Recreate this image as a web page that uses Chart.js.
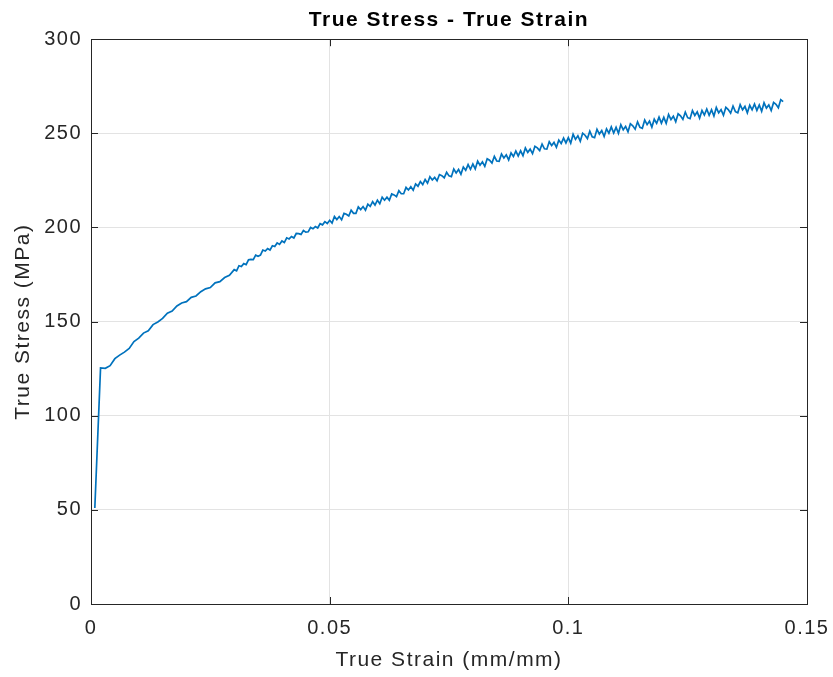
<!DOCTYPE html>
<html>
<head>
<meta charset="utf-8">
<script src="https://cdn.jsdelivr.net/npm/chart.js@4.4.1/dist/chart.umd.min.js"></script>
<style>
  html, body { margin: 0; padding: 0; background: #fff; }
  #wrap { width: 833px; height: 677px; }
</style>
</head>
<body>
<div id="wrap"><canvas id="myCanvas" width="833" height="677"></canvas></div>
<script>
// values (strain in mm/mm, stress in MPa)
var strain = [
  0.0008, 0.002, 0.003, 0.004, 0.005, 0.006, 0.007, 0.008, 0.009, 0.010,
  0.011, 0.012, 0.013, 0.014, 0.015, 0.016, 0.017, 0.018, 0.019, 0.020,
  0.021, 0.022, 0.023, 0.024, 0.025, 0.026, 0.027, 0.028, 0.029,
  0.0300, 0.0305, 0.0310, 0.0315, 0.0320, 0.0325, 0.0330, 0.0335, 0.0340, 0.0345,
  0.0350, 0.0355, 0.0360, 0.0365, 0.0370, 0.0375, 0.0380, 0.0385, 0.0390, 0.0395,
  0.0400, 0.0405, 0.0410, 0.0415, 0.0420, 0.0425, 0.0430, 0.0435, 0.0440, 0.0445,
  0.0450, 0.0455, 0.0460, 0.0465, 0.0470, 0.0475, 0.0480, 0.0485, 0.0490, 0.0495,
  0.0500, 0.0505, 0.0510, 0.0515, 0.0520, 0.0525, 0.0530, 0.0535, 0.0540, 0.0545,
  0.0550, 0.0555, 0.0560, 0.0565, 0.0570, 0.0575, 0.0580, 0.0585, 0.0590, 0.0595,
  0.0600, 0.0605, 0.0610, 0.0615, 0.0620, 0.0625, 0.0630, 0.0635, 0.0640, 0.0645,
  0.0650, 0.0655, 0.0660, 0.0665, 0.0670, 0.0675, 0.0680, 0.0685, 0.0690, 0.0695,
  0.0700, 0.0705, 0.0710, 0.0715, 0.0720, 0.0725, 0.0730, 0.0735, 0.0740, 0.0745,
  0.0750, 0.0755, 0.0760, 0.0765, 0.0770, 0.0775, 0.0780, 0.0785, 0.0790, 0.0795,
  0.0800, 0.0805, 0.0810, 0.0815, 0.0820, 0.0825, 0.0830, 0.0835, 0.0840, 0.0845,
  0.0850, 0.0855, 0.0860, 0.0865, 0.0870, 0.0875, 0.0880, 0.0885, 0.0890, 0.0895,
  0.0900, 0.0905, 0.0910, 0.0915, 0.0920, 0.0925, 0.0930, 0.0935, 0.0940, 0.0945,
  0.0950, 0.0955, 0.0960, 0.0965, 0.0970, 0.0975, 0.0980, 0.0985, 0.0990, 0.0995,
  0.1000, 0.1005, 0.1010, 0.1015, 0.1020, 0.1025, 0.1030, 0.1035, 0.1040, 0.1045,
  0.1050, 0.1055, 0.1060, 0.1065, 0.1070, 0.1075, 0.1080, 0.1085, 0.1090, 0.1095,
  0.1100, 0.1105, 0.1110, 0.1115, 0.1120, 0.1125, 0.1130, 0.1135, 0.1140, 0.1145,
  0.1150, 0.1155, 0.1160, 0.1165, 0.1170, 0.1175, 0.1180, 0.1185, 0.1190, 0.1195,
  0.1200, 0.1205, 0.1210, 0.1215, 0.1220, 0.1225, 0.1230, 0.1235, 0.1240, 0.1245,
  0.1250, 0.1255, 0.1260, 0.1265, 0.1270, 0.1275, 0.1280, 0.1285, 0.1290, 0.1295,
  0.1300, 0.1305, 0.1310, 0.1315, 0.1320, 0.1325, 0.1330, 0.1335, 0.1340, 0.1345,
  0.1350, 0.1355, 0.1360, 0.1365, 0.1370, 0.1375, 0.1380, 0.1385, 0.1390, 0.1395,
  0.1400, 0.1405, 0.1410, 0.1415, 0.1420, 0.1425, 0.1430, 0.1435, 0.1440, 0.1445,
  0.1450
];
var stress = [
  51.0, 125.4, 125.2, 126.6, 130.3, 132.2, 133.8, 135.7, 139.4, 141.2,
  143.9, 145.1, 148.4, 149.8, 151.7, 154.5, 155.6, 158.3, 159.9, 160.6,
  162.9, 163.6, 165.9, 167.4, 168.1, 170.6, 171.2, 173.4, 174.6,
  177.6, 177.0, 179.7, 179.3, 180.8, 180.2, 182.8, 183.0, 182.9, 185.3,
  184.7, 185.3, 188.0, 187.5, 188.8, 188.0, 190.3, 189.9, 191.8, 191.0,
  192.8, 192.0, 194.5, 193.9, 195.2, 194.4, 196.8, 196.7, 196.3, 198.4,
  197.5, 197.7, 200.0, 199.3, 200.5, 199.7, 202.0, 201.4, 203.1, 202.1,
  203.8, 202.3, 205.8, 204.2, 205.8, 204.1, 207.5, 207.0, 206.1, 209.2,
  207.5, 207.5, 210.9, 209.5, 211.1, 209.2, 212.4, 211.2, 213.7, 211.9,
  214.5, 212.6, 216.1, 214.5, 216.1, 214.4, 217.8, 217.3, 216.4, 219.5,
  217.9, 217.9, 221.3, 219.9, 221.6, 219.8, 223.1, 221.9, 224.4, 222.8,
  225.5, 223.5, 226.9, 225.2, 226.6, 224.8, 228.1, 227.5, 226.4, 229.3,
  227.4, 227.0, 231.0, 229.0, 230.8, 228.3, 232.1, 230.4, 233.4, 230.9,
  233.7, 231.1, 235.3, 233.1, 234.9, 232.5, 236.5, 235.7, 234.2, 237.8,
  235.3, 235.1, 239.0, 236.9, 238.6, 235.9, 239.6, 237.7, 240.6, 238.0,
  240.7, 238.1, 242.2, 239.9, 241.6, 239.2, 243.1, 242.3, 240.8, 244.3,
  241.8, 241.6, 245.5, 243.5, 245.2, 242.6, 246.4, 244.6, 247.5, 244.9,
  247.7, 244.8, 249.5, 246.8, 248.7, 245.8, 250.1, 249.0, 247.2, 251.1,
  248.2, 247.7, 252.1, 249.6, 251.5, 248.3, 252.4, 250.1, 253.4, 250.2,
  253.2, 250.0, 254.6, 251.9, 253.7, 250.8, 255.1, 254.0, 252.2, 256.1,
  253.2, 252.7, 257.1, 254.6, 256.5, 253.3, 257.5, 255.3, 258.6, 255.4,
  258.5, 255.3, 260.0, 257.3, 259.1, 256.1, 260.4, 259.3, 257.4, 261.3,
  258.3, 257.8, 262.1, 259.5, 261.4, 258.1, 262.1, 259.7, 262.9, 259.6,
  262.5, 259.2, 263.7, 260.9, 262.6, 259.6, 263.8, 262.6, 260.7, 264.5,
  261.5, 260.9, 265.2, 262.5, 264.3, 260.9, 264.9, 262.5, 265.6, 262.2,
  265.1, 261.7, 266.2, 263.4, 265.1, 262.1, 266.4, 265.4, 263.6, 267.9,
  266.8
];
var xTicks = [0, 0.05, 0.1, 0.15];
var xTickLabels = ["0", "0.05", "0.1", "0.15"];
var yTicks = [0, 50, 100, 150, 200, 250, 300];
var yTickLabels = ["0", "50", "100", "150", "200", "250", "300"];

var points = [];
for (var i = 0; i < strain.length; i++) {
  points.push({ x: strain[i], y: stress[i] });
}

var fontFam = "'Liberation Sans', Arial, Helvetica, sans-serif";
var axisColor = "#262626";

// the original text is a bit wider than Arial, add some tracking
var spacingPlugin = {
  id: "spacing",
  beforeUpdate: function(chart) { chart.ctx.letterSpacing = "1.5px"; },
  beforeRender: function(chart) { chart.ctx.letterSpacing = "1.5px"; }
};

// box around the axes + inward tick marks, like the original figure
var boxPlugin = {
  id: "box",
  afterDraw: function(chart) {
    var ctx = chart.ctx, a = chart.chartArea;
    var xs = chart.scales.x, ys = chart.scales.y;
    ctx.save();
    ctx.strokeStyle = axisColor;
    ctx.lineWidth = 1;
    ctx.strokeRect(Math.round(a.left) + 0.5, Math.round(a.top) + 0.5,
                   Math.round(a.right - a.left), Math.round(a.bottom - a.top));
    ctx.beginPath();
    xs.ticks.forEach(function(t) {
      var px = Math.round(xs.getPixelForValue(t.value)) + 0.5;
      ctx.moveTo(px, a.bottom); ctx.lineTo(px, a.bottom - 7);
      ctx.moveTo(px, a.top); ctx.lineTo(px, a.top + 7);
    });
    ys.ticks.forEach(function(t) {
      var py = Math.round(ys.getPixelForValue(t.value)) + 0.5;
      ctx.moveTo(a.left, py); ctx.lineTo(a.left + 7, py);
      ctx.moveTo(a.right, py); ctx.lineTo(a.right - 7, py);
    });
    ctx.stroke();
    ctx.restore();
  }
};

var ctx = document.getElementById("myCanvas");
var chart = new Chart(ctx, {
  type: "line",
  data: {
    datasets: [{
      label: "True Stress",
      data: points,
      borderColor: "#0072BD",
      backgroundColor: "#0072BD",
      borderWidth: 1.7,
      pointRadius: 0,
      tension: 0,
      fill: false
    }]
  },
  options: {
    responsive: false,
    animation: false,
    layout: { padding: { top: 5, right: 26, bottom: 0, left: 0 } },
    plugins: {
      legend: { display: false },
      tooltip: { enabled: false },
      title: {
        display: true,
        fullSize: false,
        text: "True Stress - True Strain",
        color: "#000",
        font: { family: fontFam, size: 21, weight: "bold" },
        padding: { top: 3, bottom: 6 }
      }
    },
    scales: {
      x: {
        type: "linear",
        min: 0,
        max: 0.15,
        afterBuildTicks: function(s) { s.ticks = xTicks.map(function(v) { return { value: v }; }); },
        afterFit: function(s) { s.height = 73; s.paddingRight = 0; s.paddingLeft = 0; },
        ticks: {
          color: axisColor,
          font: { family: fontFam, size: 20 },
          padding: 12,
          maxRotation: 0,
          callback: function(v) { return xTickLabels[xTicks.indexOf(v)]; }
        },
        grid: { color: "#e3e3e3", drawTicks: false },
        border: { display: false },
        title: {
          display: true,
          text: "True Strain (mm/mm)",
          color: axisColor,
          font: { family: fontFam, size: 21 },
          padding: { top: 0, bottom: 4 }
        }
      },
      y: {
        type: "linear",
        min: 0,
        max: 300,
        afterBuildTicks: function(s) { s.ticks = yTicks.map(function(v) { return { value: v }; }); },
        afterFit: function(s) { s.width = 91; },
        ticks: {
          color: axisColor,
          font: { family: fontFam, size: 20 },
          padding: 9,
          callback: function(v) { return yTickLabels[yTicks.indexOf(v)]; }
        },
        grid: { color: "#e3e3e3", drawTicks: false },
        border: { display: false },
        title: {
          display: true,
          text: "True Stress (MPa)",
          color: axisColor,
          font: { family: fontFam, size: 21 },
          padding: { top: 11, bottom: 0 }
        }
      }
    }
  },
  plugins: [spacingPlugin, boxPlugin]
});
</script>
</body>
</html>
